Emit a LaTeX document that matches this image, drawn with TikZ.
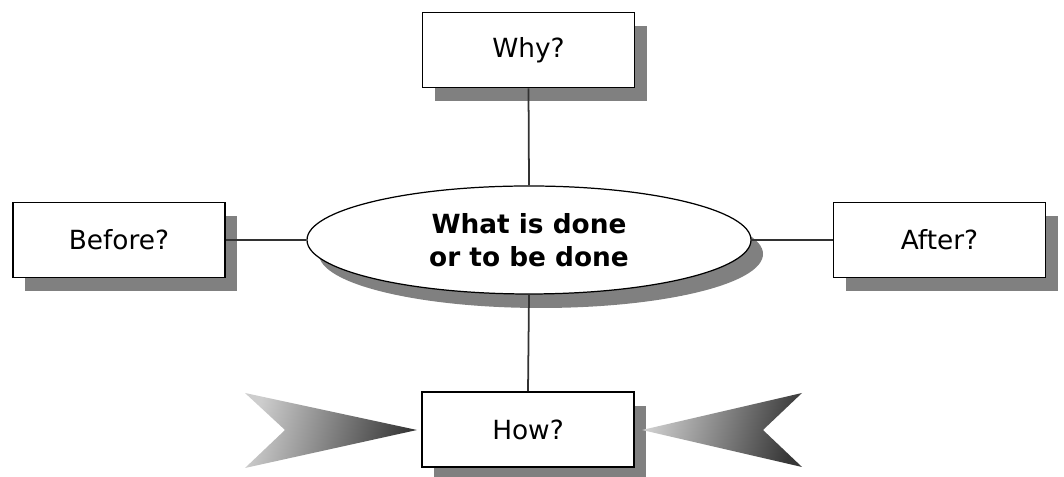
\documentclass[tikz,border=0pt]{standalone}
\usepackage{fontspec}
\setmainfont{DejaVu Sans}
\usepackage{xcolor}
\definecolor{shadowgray}{RGB}{128, 128, 128}
\definecolor{linegray}{RGB}{50, 50, 50}
\definecolor{chevronlight}{RGB}{205, 205, 205}
\definecolor{chevrondark}{RGB}{55, 55, 55}
\usepackage{tikz}
\usetikzlibrary{shapes.geometric, shadows}

\begin{document}
\begin{tikzpicture}[
    qbox/.style={draw=black, line width=1.1pt, fill=white, rectangle,
        minimum width=4.24cm, minimum height=1.5cm, inner sep=0pt,
        font=\fontsize{15}{19}\selectfont,
        drop shadow={shadow xshift=0.24cm, shadow yshift=-0.28cm, fill=shadowgray, opacity=1}},
    coreoval/.style={draw=black, line width=0.7pt, fill=white, ellipse,
        minimum width=8.88cm, minimum height=2.16cm, inner sep=0pt, align=center,
        font=\fontsize{15}{19}\selectfont\bfseries,
        drop shadow={shadow xshift=0.24cm, shadow yshift=-0.28cm, fill=shadowgray, opacity=1}},
    link/.style={draw=linegray, line width=1pt},
    chevron/.style={left color=chevronlight, right color=chevrondark, shading angle=75}
]
    \useasboundingbox (0,0) rectangle (21.28,9.54);

    % Central question
    \node[coreoval] (core) at (10.58,4.74) {What is done\\or to be done};

    % Question boxes
    \node[qbox] (why) at (10.57,8.54) {Why?};
    \node[qbox] (before) at (2.38,4.74) {Before?};
    \node[qbox] (after) at (18.79,4.74) {After?};
    \node[qbox] (how) at (10.56,0.95) {How?};

    % Links
    \draw[link] (why.south) -- (core.north);
    \draw[link] (before.east) -- (core.west);
    \draw[link] (core.east) -- (after.west);
    \draw[link] (core.south) -- (how.north);

    % Chevrons pointing at How?
    \shade[chevron] (4.90,1.68) -- (8.34,0.94) -- (4.90,0.18) -- (5.70,0.94) -- cycle;
    \shade[chevron] (12.84,0.94) -- (16.04,1.68) -- (15.26,0.94) -- (16.04,0.20) -- cycle;
\end{tikzpicture}
\end{document}
